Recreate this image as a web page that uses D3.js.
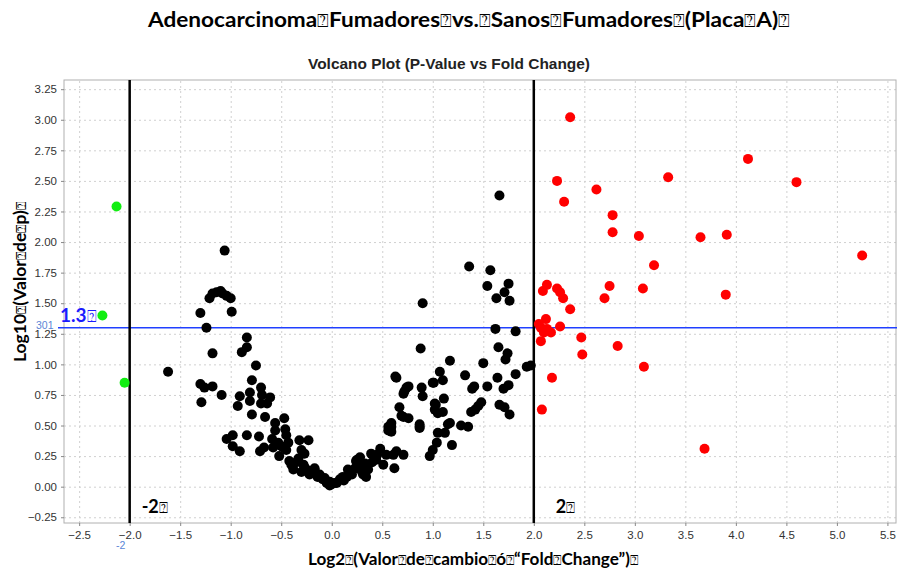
<!DOCTYPE html>
<html>
<head>
<meta charset="utf-8">
<script src="https://cdn.jsdelivr.net/npm/d3@7"></script>
<style>
  body { margin: 0; background: #fff; }
  .axis text { font-family: 'Liberation Sans', Arial, sans-serif; font-size: 11.5px; fill: #333; }
  .axis line { stroke: #888; }
  .axis path { display: none; }
  .grid line { stroke: #d0d0d0; stroke-dasharray: 2,3; }
  .grid path { display: none; }
  .calibri { font-family: Lato, 'Open Sans', sans-serif; font-weight: bold; }
</style>
</head>
<body>
<svg id="chart" width="897" height="571"></svg>
<script>
// labels (the boxes are part of the source picture)
const title = 'Adenocarcinoma⍰Fumadores⍰vs.⍰Sanos⍰Fumadores⍰(Placa⍰A)⍰';
const subtitle = 'Volcano Plot (P-Value vs Fold Change)';
const xTitle = 'Log2⍰(Valor⍰de⍰cambio⍰ó⍰“Fold⍰Change”)⍰';
const yTitle = 'Log10⍰(Valor⍰de⍰p)⍰';

const xTicks = [-2.5, -2.0, -1.5, -1.0, -0.5, 0.0, 0.5, 1.0, 1.5, 2.0, 2.5, 3.0, 3.5, 4.0, 4.5, 5.0, 5.5];
const yTicks = [-0.25, 0.00, 0.25, 0.50, 0.75, 1.00, 1.25, 1.50, 1.75, 2.00, 2.25, 2.50, 2.75, 3.00, 3.25];

const foldCut = [-2, 2];
const pCut = 1.3;

// [log2 fold change, -log10 p]
const downRegulated = [[-2.13, 2.29], [-2.27, 1.40], [-2.05, 0.85]];

const upRegulated = [
  [2.36, 3.02], [4.12, 2.68], [3.33, 2.53], [4.60, 2.49], [2.23, 2.50], [2.62, 2.43],
  [2.30, 2.33], [2.78, 2.22], [2.78, 2.08], [3.04, 2.05], [3.65, 2.04], [3.91, 2.06],
  [5.25, 1.89], [3.19, 1.81], [2.09, 1.60], [2.13, 1.65], [2.23, 1.62], [2.26, 1.59],
  [2.29, 1.54], [2.36, 1.45], [2.75, 1.64], [2.70, 1.54], [3.08, 1.62], [3.90, 1.57],
  [2.12, 1.37], [2.07, 1.30], [2.10, 1.26], [2.17, 1.26], [2.26, 1.31], [2.07, 1.19],
  [2.47, 1.22], [2.48, 1.08], [2.83, 1.15], [3.09, 0.98], [2.18, 0.89], [2.08, 0.63],
  [3.69, 0.31], [2.05, 1.33], [2.13, 1.29]
];

const notSignificant = [
  [-1.62, 0.94], [-1.30, 1.42], [-1.24, 1.30], [-1.21, 1.54], [-1.18, 1.58], [-1.14, 1.59],
  [-1.10, 1.60], [-1.08, 1.58], [-1.04, 1.56], [-1.00, 1.54], [-0.99, 1.43], [-1.06, 1.93],
  [-0.84, 1.22], [-0.84, 1.14], [-0.89, 1.10], [-1.18, 1.09], [-0.75, 0.99], [-0.79, 0.87],
  [-1.30, 0.84], [-1.26, 0.81], [-1.18, 0.82], [-1.09, 0.75], [-1.29, 0.69], [-0.91, 0.74],
  [-0.93, 0.66], [-0.81, 0.77], [-0.81, 0.70], [-0.70, 0.81], [-0.69, 0.75], [-0.61, 0.73],
  [-0.64, 0.68], [-0.70, 0.68], [-0.79, 0.59], [-0.66, 0.57], [-0.56, 0.52], [-0.47, 0.56],
  [-0.56, 0.46], [-0.46, 0.47], [-0.45, 0.42], [-1.04, 0.39], [-0.98, 0.42], [-0.98, 0.33],
  [-0.91, 0.29], [-0.84, 0.42], [-0.72, 0.41], [-0.71, 0.29], [-0.67, 0.32], [-0.59, 0.39],
  [-0.53, 0.36], [-0.50, 0.33], [-0.52, 0.25], [-0.43, 0.36], [-0.42, 0.21], [-0.38, 0.14],
  [-0.33, 0.23], [-0.30, 0.30], [-0.27, 0.27], [-0.23, 0.38], [-0.32, 0.38], [-0.28, 0.18],
  [-0.25, 0.14], [-0.27, 0.16], [-0.17, 0.14], [-0.17, 0.15], [-0.12, 0.10], [-0.09, 0.06],
  [-0.07, 0.07], [-0.02, 0.04], [-0.02, 0.01], [0.03, 0.03], [0.05, 0.03], [0.08, 0.06],
  [0.10, 0.06], [0.11, 0.08], [0.15, 0.08], [0.16, 0.14], [0.20, 0.10], [0.23, 0.15],
  [0.24, 0.15], [0.24, 0.21], [0.25, 0.22], [0.26, 0.21], [0.28, 0.18], [0.33, 0.19],
  [0.34, 0.08], [0.36, 0.14], [0.39, 0.27], [0.44, 0.22], [0.48, 0.31], [0.51, 0.18],
  [0.54, 0.26], [0.61, 0.26], [0.62, 0.15], [0.64, 0.29], [0.71, 0.26], [0.59, 0.49],
  [0.56, 0.46], [0.59, 0.45], [0.67, 0.65], [0.71, 0.57], [0.76, 0.56], [0.87, 0.49],
  [0.72, 0.78], [0.76, 0.82], [0.63, 0.90], [0.64, 0.89], [0.89, 0.81], [0.90, 0.74],
  [1.00, 0.85], [1.02, 0.68], [1.02, 0.63], [1.00, 0.30], [0.97, 0.25], [0.87, 0.48],
  [1.04, 0.36], [1.05, 0.44], [1.12, 0.44], [1.15, 0.51], [1.19, 0.34], [0.74, 0.81],
  [0.71, 0.76], [1.11, 0.72], [1.03, 0.67], [1.05, 0.60], [1.10, 0.61], [0.69, 0.58],
  [1.48, 0.69], [1.45, 0.66], [1.42, 0.63], [1.38, 0.61], [1.66, 0.67], [1.71, 0.65],
  [1.76, 0.59], [0.59, 0.52], [0.56, 0.49], [0.87, 0.51], [1.17, 0.52], [1.28, 0.50],
  [1.35, 0.49], [1.07, 0.94], [1.10, 0.87], [1.01, 0.85], [1.32, 0.91], [1.82, 0.92],
  [1.64, 0.89], [1.54, 0.82], [1.75, 0.83], [1.70, 0.80], [1.41, 0.82], [1.39, 0.80],
  [0.88, 1.13], [1.65, 1.14], [1.74, 1.09], [1.72, 1.04], [1.17, 1.03], [1.50, 1.01],
  [1.93, 0.98], [1.97, 0.99], [0.90, 1.50], [1.62, 1.29], [1.82, 1.27], [1.36, 1.80],
  [1.57, 1.77], [1.54, 1.64], [1.75, 1.66], [1.71, 1.59], [1.63, 1.54], [1.76, 1.52],
  [1.66, 2.38], [-0.40, 0.18], [-0.35, 0.20], [-0.30, 0.12], [-0.22, 0.10], [-0.14, 0.08],
  [-0.05, 0.03], [0.00, 0.02], [0.12, 0.05], [0.18, 0.12], [0.30, 0.12], [0.40, 0.20],
  [0.45, 0.26], [0.28, 0.24], [0.31, 0.10], [-0.48, 0.32], [-0.58, 0.32], [-0.45, 0.30]
];

const width = 897;
const height = 571;
const margin = { top: 80, right: 1, bottom: 48, left: 64 };
const innerWidth = width - margin.left - margin.right;
const innerHeight = height - margin.top - margin.bottom;

const svg = d3.select('#chart');

const x = d3.scaleLinear()
  .domain([-2.65, 5.585])
  .range([margin.left, width - margin.right]);

const y = d3.scaleLinear()
  .domain([-0.297, 3.325])
  .range([height - margin.bottom, margin.top]);

// text with the "missing glyph" boxes seen in the source
function boxedText(sel, str) {
  str.split('⍰').forEach((part, i, all) => {
    if (part) sel.append('tspan').text(part);
    if (i < all.length - 1) {
      sel.append('tspan')
        .attr('font-size', '0.85em')
        .attr('font-weight', 'normal')
        .text('⍰');
    }
  });
  return sel;
}

// grid
svg.append('g')
  .attr('class', 'grid')
  .attr('transform', `translate(0, ${ height - margin.bottom })`)
  .call(d3.axisBottom(x).tickValues(xTicks).tickSize(-innerHeight).tickFormat(''));

svg.append('g')
  .attr('class', 'grid')
  .attr('transform', `translate(${ margin.left }, 0)`)
  .call(d3.axisLeft(y).tickValues(yTicks).tickSize(-innerWidth).tickFormat(''));

// frame
svg.append('rect')
  .attr('x', margin.left)
  .attr('y', margin.top)
  .attr('width', innerWidth)
  .attr('height', innerHeight)
  .attr('fill', 'none')
  .attr('stroke', '#b0b0b0');

// axes
svg.append('g')
  .attr('class', 'axis')
  .attr('transform', `translate(0, ${ height - margin.bottom })`)
  .call(d3.axisBottom(x).tickValues(xTicks).tickSize(3).tickPadding(5).tickFormat(d3.format('.1f')));

svg.append('g')
  .attr('class', 'axis')
  .attr('transform', `translate(${ margin.left }, 0)`)
  .call(d3.axisLeft(y).tickValues(yTicks).tickSize(3).tickPadding(4).tickFormat(d3.format('.2f')));

// threshold lines
svg.append('line')
  .attr('x1', 58)
  .attr('x2', width)
  .attr('y1', y(pCut))
  .attr('y2', y(pCut))
  .attr('stroke', '#2040ff')
  .attr('stroke-width', 1.5);

svg.selectAll('.cut')
  .data(foldCut)
  .enter().append('line')
  .attr('class', 'cut')
  .attr('x1', (d) => x(d))
  .attr('x2', (d) => x(d))
  .attr('y1', margin.top)
  .attr('y2', height - margin.bottom)
  .attr('stroke', '#000')
  .attr('stroke-width', 2.5);

// points
const groups = [
  { data: notSignificant, color: '#000' },
  { data: upRegulated, color: '#ff0000' },
  { data: downRegulated, color: '#11ee11' },
];

groups.forEach((g) => {
  svg.append('g')
    .selectAll('circle')
    .data(g.data)
    .enter().append('circle')
    .attr('cx', (d) => x(d[0]))
    .attr('cy', (d) => y(d[1]))
    .attr('r', 5)
    .attr('fill', g.color);
});

// texts
boxedText(svg.append('text')
  .attr('class', 'calibri')
  .attr('x', 469)
  .attr('y', 27)
  .attr('text-anchor', 'middle')
  .attr('font-size', 21)
  .attr('textLength', 642)
  .attr('lengthAdjust', 'spacingAndGlyphs'), title);

svg.append('text')
  .attr('x', 449)
  .attr('y', 69)
  .attr('text-anchor', 'middle')
  .attr('font-family', "'Liberation Sans', Arial, sans-serif")
  .attr('font-weight', 'bold')
  .attr('font-size', 14)
  .attr('fill', '#222')
  .attr('textLength', 282)
  .attr('lengthAdjust', 'spacingAndGlyphs')
  .text(subtitle);

boxedText(svg.append('text')
  .attr('class', 'calibri')
  .attr('x', 473)
  .attr('y', 565)
  .attr('text-anchor', 'middle')
  .attr('font-size', 17)
  .attr('textLength', 330)
  .attr('lengthAdjust', 'spacingAndGlyphs'), xTitle);

boxedText(svg.append('text')
  .attr('class', 'calibri')
  .attr('transform', 'translate(26, 282) rotate(-90)')
  .attr('text-anchor', 'middle')
  .attr('font-size', 17)
  .attr('textLength', 160)
  .attr('lengthAdjust', 'spacingAndGlyphs'), yTitle);

boxedText(svg.append('text')
  .attr('class', 'calibri')
  .attr('x', 60)
  .attr('y', 322)
  .attr('font-size', 19)
  .attr('fill', '#1a1aff'), '1.3⍰');

svg.append('text')
  .attr('x', 36)
  .attr('y', 329)
  .attr('font-family', "'Liberation Sans', Arial, sans-serif")
  .attr('font-size', 10.5)
  .attr('fill', '#5b86d6')
  .text('301');

svg.append('text')
  .attr('x', 116)
  .attr('y', 549)
  .attr('font-family', "'Liberation Sans', Arial, sans-serif")
  .attr('font-size', 10.5)
  .attr('fill', '#5b86d6')
  .text('-2');

svg.selectAll('.cutlabel')
  .data(foldCut)
  .enter().append('text')
  .attr('class', 'calibri cutlabel')
  .attr('x', (d) => x(d) + (d < 0 ? 12 : 22))
  .attr('y', 513)
  .attr('font-size', 18)
  .each(function (d) { boxedText(d3.select(this), d + '⍰'); });
</script>
</body>
</html>
